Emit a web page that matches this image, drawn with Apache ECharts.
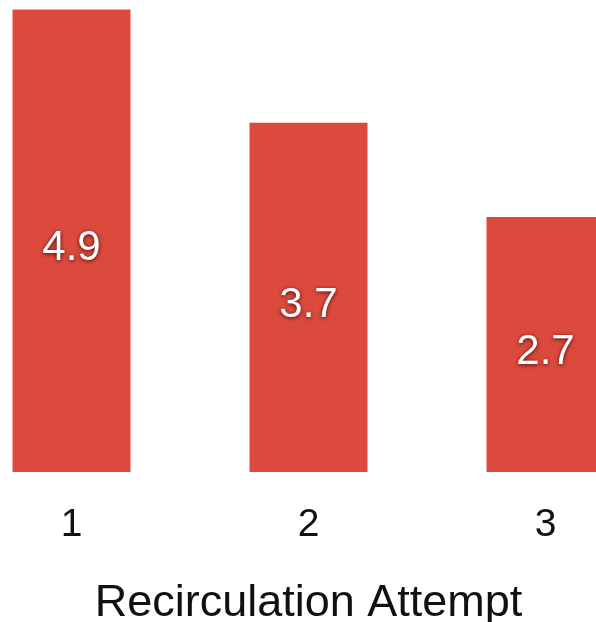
<!DOCTYPE html>
<html>
<head>
<meta charset="utf-8">
<script src="https://cdn.jsdelivr.net/npm/echarts@6/dist/echarts.min.js"></script>
<style>
  html, body { margin: 0; padding: 0; background: #fff; }
  #chart { width: 596px; height: 622px; }
</style>
</head>
<body>
<div id="chart"></div>
<script>
// Average count per recirculation attempt
const attempts = ['1', '2', '3'];
const values = [4.9, 3.7, 2.7];
const axisTitle = 'Recirculation Attempt';

const chart = echarts.init(document.getElementById('chart'), null, { renderer: 'canvas' });

chart.setOption({
  animation: false,
  grid: {
    left: -47,
    width: 711,
    top: 0,
    bottom: 150,
    containLabel: false,
    outerBoundsMode: 'none'
  },
  xAxis: {
    type: 'category',
    data: attempts,
    axisLine: { show: false },
    axisTick: { show: false },
    axisLabel: {
      margin: 34,
      fontFamily: 'Liberation Sans, Arial, sans-serif',
      fontSize: 39,
      color: '#111111'
    },
    name: axisTitle,
    nameLocation: 'middle',
    nameGap: 109,
    nameTextStyle: {
      fontFamily: 'Liberation Sans, Arial, sans-serif',
      fontSize: 45,
      color: '#111111'
    }
  },
  yAxis: {
    type: 'value',
    min: 0,
    max: 5,
    show: false
  },
  series: [{
    type: 'bar',
    data: values,
    barWidth: 118,
    itemStyle: { color: '#dc4a3e' },
    label: {
      show: true,
      position: 'inside',
      offset: [0, 8],
      fontFamily: 'Liberation Sans, Arial, sans-serif',
      fontSize: 42,
      color: '#ffffff',
      textShadowColor: 'rgba(50,0,0,0.85)',
      textShadowBlur: 4,
      textShadowOffsetX: 0,
      textShadowOffsetY: 1
    }
  }]
});
</script>
</body>
</html>
